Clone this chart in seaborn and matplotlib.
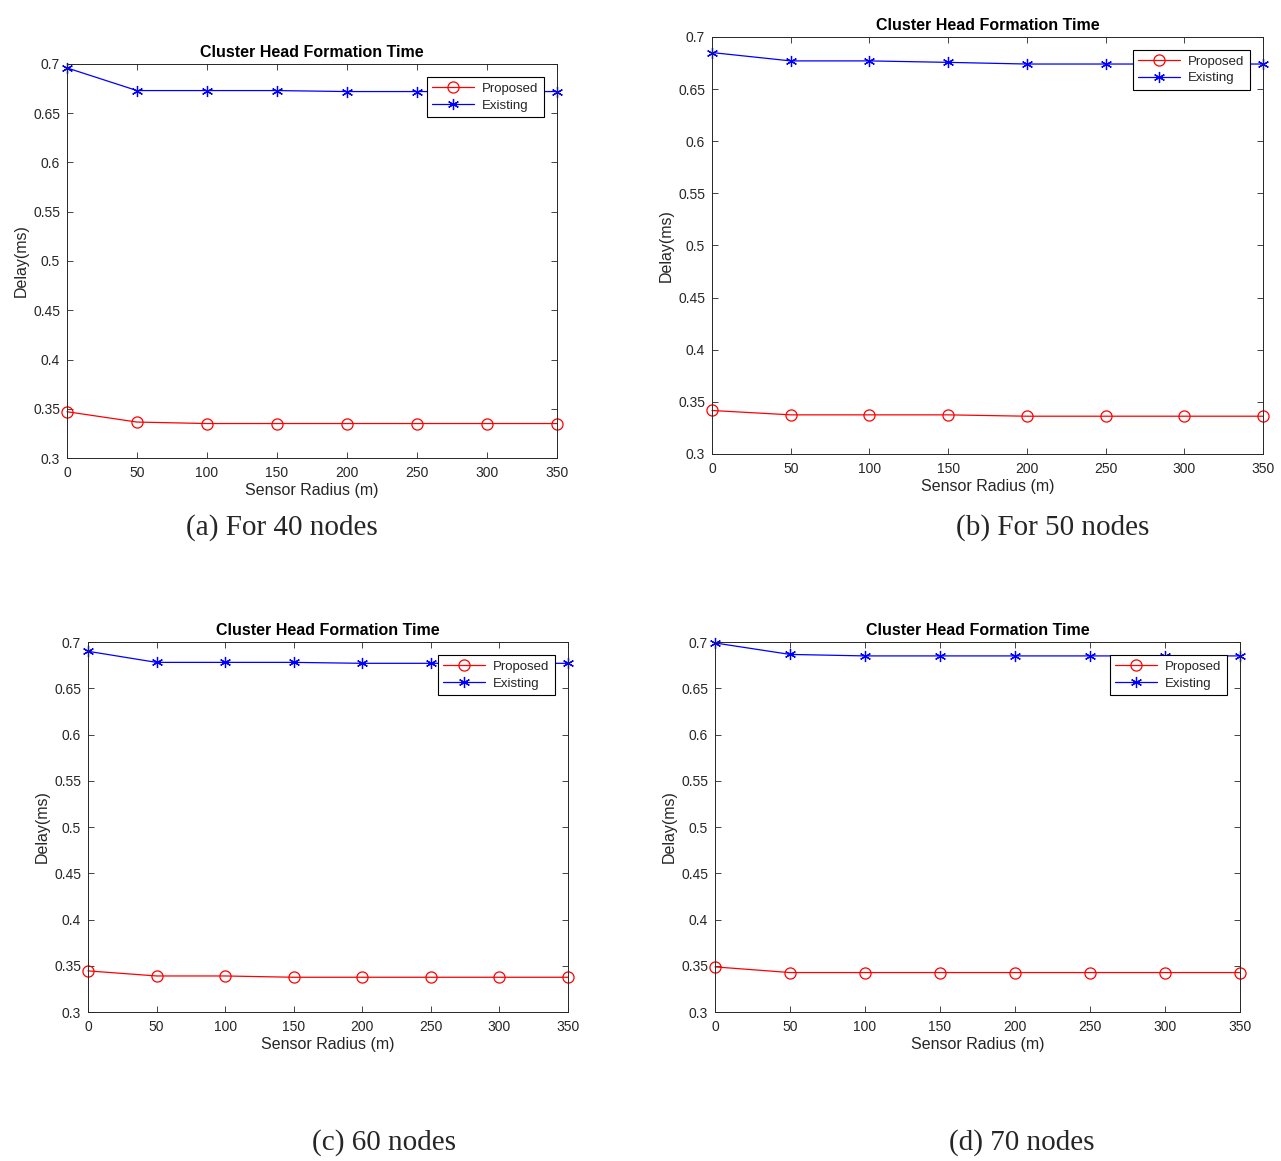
import numpy as np
import pandas as pd
import matplotlib
matplotlib.use("Agg")
import matplotlib.pyplot as plt
import seaborn as sns

# ------------------------------------------------------------
# data
# ------------------------------------------------------------
radius = [0, 50, 100, 150, 200, 250, 300, 350]

proposed_40 = [0.347, 0.3365, 0.335, 0.335, 0.335, 0.335, 0.335, 0.335]
existing_40 = [0.696, 0.673, 0.673, 0.673, 0.672, 0.672, 0.672, 0.672]

proposed_50 = [0.3417, 0.3375, 0.3375, 0.3375, 0.3362, 0.3362, 0.3362, 0.3362]
existing_50 = [0.685, 0.677, 0.677, 0.6756, 0.674, 0.674, 0.674, 0.674]

proposed_60 = [0.3445, 0.339, 0.339, 0.3376, 0.3376, 0.3376, 0.3376, 0.3376]
existing_60 = [0.690, 0.678, 0.678, 0.678, 0.677, 0.677, 0.677, 0.677]

proposed_70 = [0.3488, 0.3427, 0.3427, 0.3427, 0.3427, 0.3427, 0.3427, 0.3427]
existing_70 = [0.699, 0.6866, 0.685, 0.685, 0.685, 0.685, 0.685, 0.685]

captions = ["(a) For 40 nodes", "(b) For 50 nodes", "(c) 60 nodes", "(d) 70 nodes"]
y_ticks = [0.3, 0.35, 0.4, 0.45, 0.5, 0.55, 0.6, 0.65, 0.7]
y_tick_labels = ["0.3", "0.35", "0.4", "0.45", "0.5", "0.55", "0.6", "0.65", "0.7"]

# ------------------------------------------------------------
# style
# ------------------------------------------------------------
sns.set_style("ticks")
plt.rcParams['font.family'] = ['Liberation Sans', 'DejaVu Sans']
plt.rcParams['xtick.direction'] = 'in'
plt.rcParams['ytick.direction'] = 'in'

GREY = '#262626'

fig = plt.figure(figsize=(12.81, 11.61), dpi=100)

# axes rectangles in figure fractions (left, bottom, width, height)
rects = [
    (0.0523, 0.6055, 0.3825, 0.3394),
    (0.5558, 0.6090, 0.4301, 0.3592),
    (0.0687, 0.1283, 0.3747, 0.3187),
    (0.5582, 0.1283, 0.4098, 0.3187),
]
caption_pos = [(0.220, 0.5452), (0.822, 0.5452), (0.300, 0.0155), (0.798, 0.0155)]

panels = [
    (proposed_40, existing_40),
    (proposed_50, existing_50),
    (proposed_60, existing_60),
    (proposed_70, existing_70),
]

for i, (prop, exist) in enumerate(panels):
    ax = fig.add_axes(rects[i])
    df = pd.DataFrame({'radius': radius, 'Proposed': prop, 'Existing': exist})

    sns.lineplot(data=df, x='radius', y='Proposed', ax=ax, color='red',
                 linewidth=0.9, marker='o', markersize=8,
                 markerfacecolor='none', markeredgecolor='red',
                 markeredgewidth=0.9, label='Proposed', legend=False,
                 clip_on=False)
    sns.lineplot(data=df, x='radius', y='Existing', ax=ax, color='blue',
                 linewidth=0.9, marker=(6, 2, 0), markersize=8,
                 markeredgecolor='blue', markeredgewidth=0.9,
                 label='Existing', legend=False, clip_on=False)

    ax.set_xlim(0, 350)
    ax.set_ylim(0.3, 0.7)
    ax.set_xticks(radius)
    ax.set_yticks(y_ticks)
    ax.set_yticklabels(y_tick_labels)
    ax.tick_params(axis='both', which='both', top=True, right=True,
                   labelsize=10, colors=GREY, length=4, width=0.6)
    ax.tick_params(axis='x', pad=6)
    ax.tick_params(axis='y', pad=5)
    for sp in ax.spines.values():
        sp.set_color(GREY)
        sp.set_linewidth(0.7)

    ax.set_xlabel("Sensor Radius (m)", fontsize=11.5, color=GREY, labelpad=2)
    ax.set_ylabel("Delay(ms)", fontsize=11.5, color=GREY, labelpad=3)
    ax.set_title("Cluster Head Formation Time", fontsize=11.5,
                 fontweight='bold', color='black', pad=5)

    leg = ax.legend(loc='upper right', fontsize=9.5, frameon=True,
                    fancybox=False, framealpha=1, edgecolor='black',
                    borderaxespad=1.0, handlelength=3.2, borderpad=0.4,
                    labelspacing=0.35, handletextpad=0.6)
    leg.get_frame().set_linewidth(0.8)
    leg.set_zorder(5)

    fig.text(caption_pos[i][0], caption_pos[i][1], captions[i],
             ha='center', va='center', fontsize=21,
             family=['Liberation Serif', 'DejaVu Serif'])

fig.savefig("out.png", dpi=100)
